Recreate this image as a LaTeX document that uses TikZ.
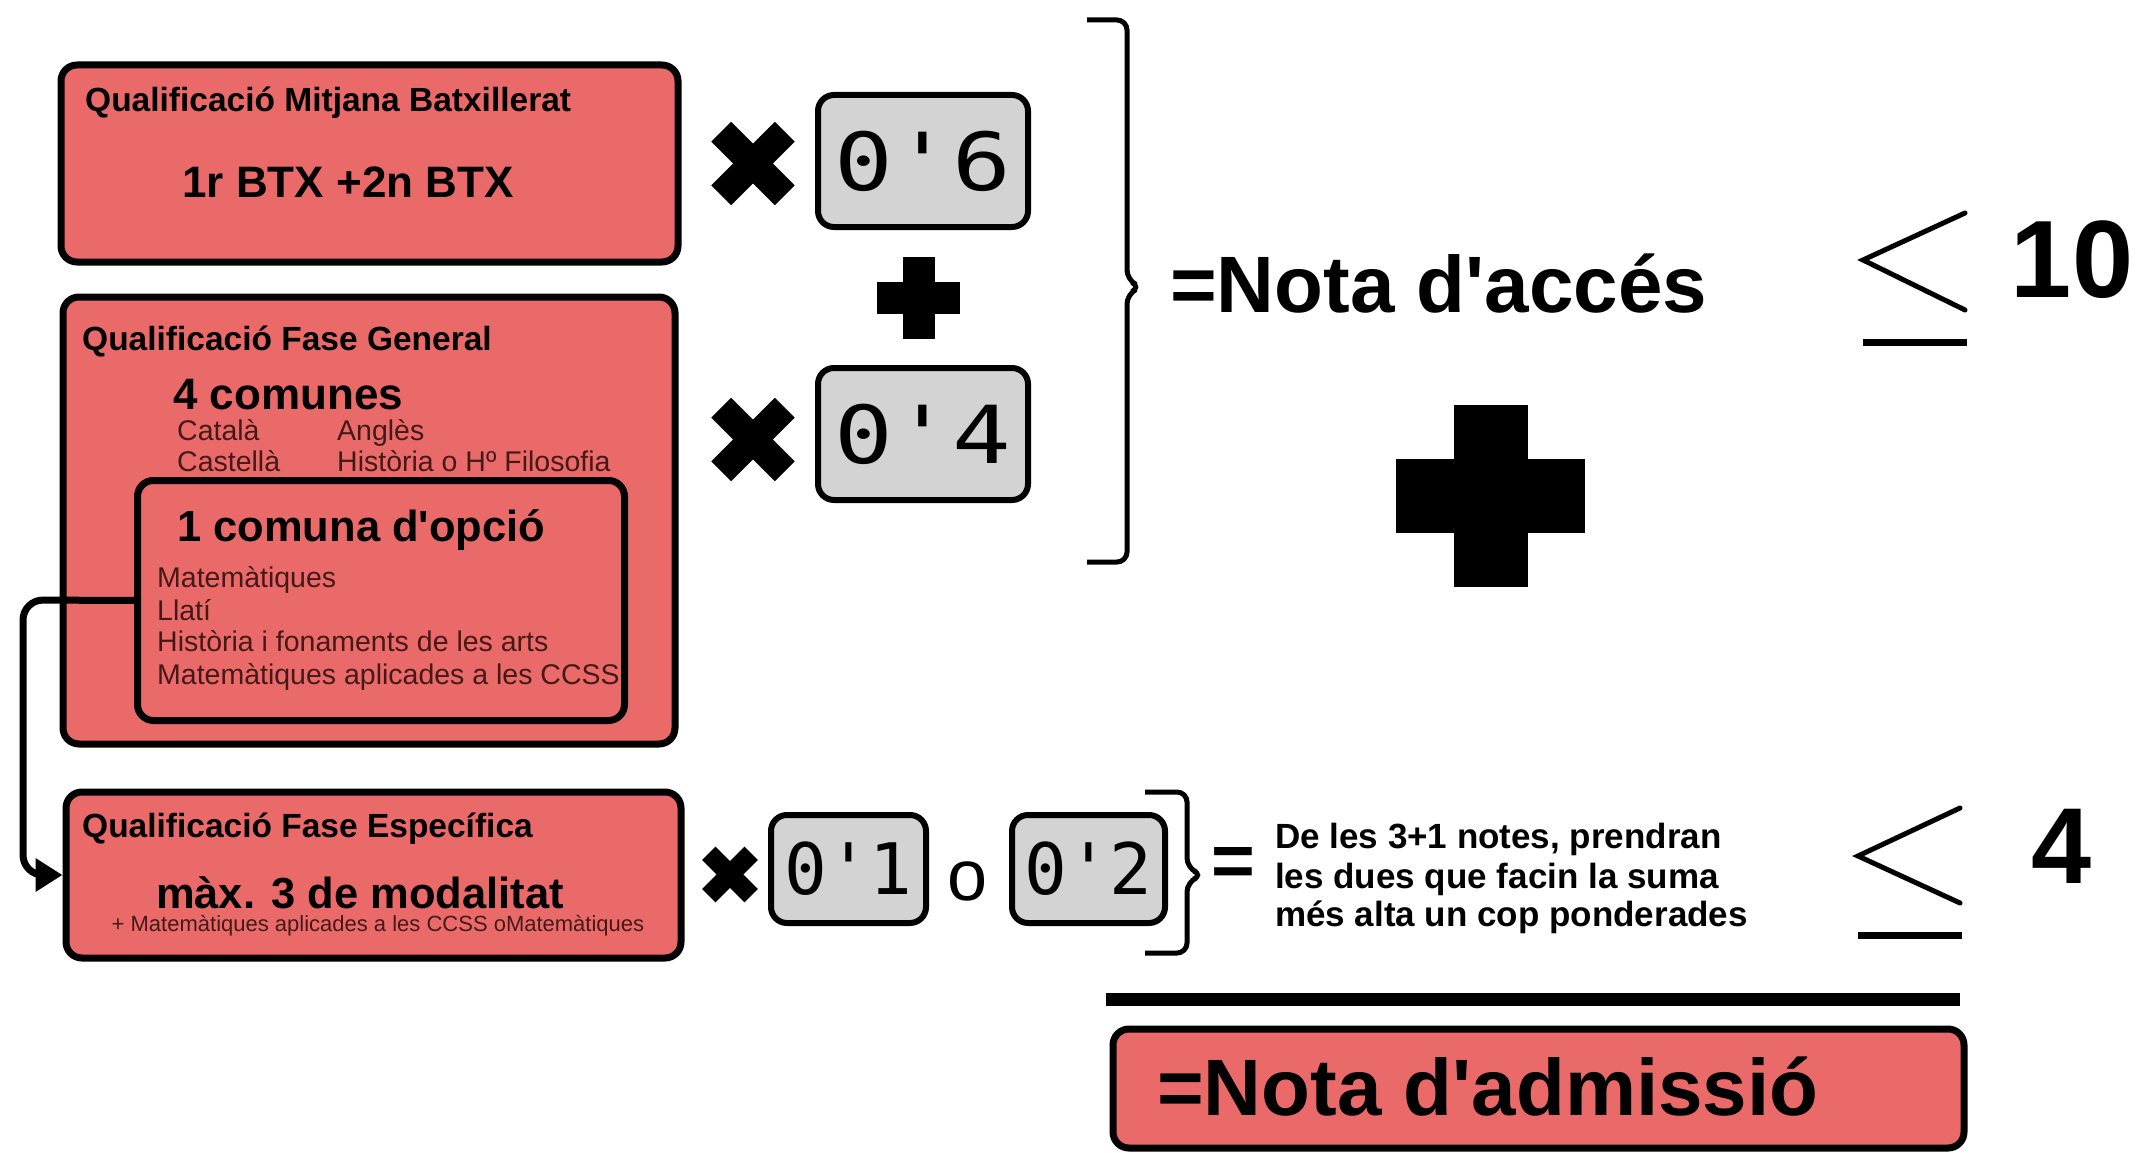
\documentclass[tikz,border=0pt]{standalone}
\usepackage{fontspec}
\setmonofont{DejaVu Sans Mono}
\newfontfamily\ar{Liberation Sans}
\usetikzlibrary{arrows.meta}
\definecolor{boxred}{RGB}{234,106,106}
\definecolor{boxgrey}{RGB}{211,211,211}
\definecolor{subtxt}{RGB}{70,25,25}
\newcommand\fsz[1]{\fontsize{#1}{#1}\selectfont}
\begin{document}
\begin{tikzpicture}[x=1pt,y=-1pt,
  redbox/.style={draw=black, fill=boxred, line width=7pt, rounded corners=16pt, inner sep=0pt},
  greybox/.style={draw=black, fill=boxgrey, line width=6pt, rounded corners=16pt, inner sep=0pt},
  ttl/.style={anchor=base west, inner sep=0pt, font=\ar\bfseries\fsz{33.5}},
  bigb/.style={inner sep=0pt, font=\ar\bfseries\fsz{44}},
  subj/.style={anchor=base west, inner sep=0pt, font=\ar\fsz{28.5}, text=subtxt},
  huge/.style={anchor=base west, inner sep=0pt, font=\ar\bfseries\fsz{80}},
  note/.style={anchor=base west, inner sep=0pt, font=\ar\bfseries\fsz{35}},
  brace/.style={draw=black, line width=5pt, rounded corners=10pt},
  conn/.style={draw=black, line width=7pt, rounded corners=20pt, -{Triangle[length=27pt,width=32pt]}},
  leq/.style={draw=black, line width=5pt, line cap=round}
]
\fill[white] (0,0) rectangle (2139,1153);
\useasboundingbox (0,0) rectangle (2139,1153);

% --- left boxes
\node[redbox, minimum width=617pt, minimum height=197pt] (mitjana) at (369.5,163.5) {};
\node[ttl] (t1) at (85,112) {Qualificació Mitjana Batxillerat};
\node[bigb, anchor=base] (btx) at (348,197) {1r BTX +2n BTX};

\node[redbox, minimum width=612pt, minimum height=447pt] (general) at (369,520.5) {};
\node[ttl] (t2) at (82,350) {Qualificació Fase General};
\node[bigb, anchor=base west] (comunes) at (173,409) {4 comunes};
\node[subj] (cat) at (177,440) {Català};
\node[subj] (ang) at (337,440) {Anglès};
\node[subj] (cas) at (177,471) {Castellà};
\node[subj] (his) at (337,471) {Història o Hº Filosofia};

\node[redbox, draw=none, minimum width=480pt, minimum height=233pt] (inner) at (381,600.5) {};
\node[bigb, anchor=base west, font=\ar\bfseries\fsz{43.5}] (opcio) at (177,541) {1 comuna d'opció};
\node[subj] (m1) at (157,587) {Matemàtiques};
\node[subj] (m2) at (157,620) {Llatí};
\node[subj] (m3) at (157,651) {Història i fonaments de les arts};
\node[subj] (m4) at (157,684) {Matemàtiques aplicades a les CCSS};
\draw[black, line width=7pt, rounded corners=16pt] (inner.south west) rectangle (inner.north east);

\node[redbox, minimum width=615pt, minimum height=166pt] (espec) at (373.5,875) {};
\node[ttl] (t3) at (82,837) {Qualificació Fase Específica};
\node[bigb, anchor=base, font=\ar\bfseries\fsz{43.5}] (max) at (360,908) {màx. 3 de modalitat};
\node[anchor=base, inner sep=0pt, font=\ar\fsz{22}, text=subtxt] (plus3) at (378,931) {+ Matemàtiques aplicades a les CCSS oMatemàtiques};

\coordinate (bend) at (23,600);
\draw[conn] (inner.west) -- (bend) |- (espec.west);

% --- multiplication marks
\begin{scope}[shift={(753,163.5)}]
  \fill[rotate=45] (-45,-14) rectangle (45,14);
  \fill[rotate=-45] (-45,-14) rectangle (45,14);
\end{scope}
\begin{scope}[shift={(753,439.5)}]
  \fill[rotate=45] (-45,-14) rectangle (45,14);
  \fill[rotate=-45] (-45,-14) rectangle (45,14);
\end{scope}
\begin{scope}[shift={(730,874.5)}]
  \fill[rotate=45] (-30,-9.5) rectangle (30,9.5);
  \fill[rotate=-45] (-30,-9.5) rectangle (30,9.5);
\end{scope}

% --- factors
\node[greybox, minimum width=210pt, minimum height=132pt, font=\ttfamily\fsz{80}] (f6) at (923,161) {\scalebox{1.22}[1]{0'6}};
\node[greybox, minimum width=210pt, minimum height=132pt, font=\ttfamily\fsz{80}] (f4) at (923,434) {\scalebox{1.22}[1]{0'4}};
\node[greybox, minimum width=155pt, minimum height=108pt, font=\ttfamily\fsz{71}] (f1) at (848.5,869) {0'1};
\node[greybox, minimum width=153pt, minimum height=108pt, font=\ttfamily\fsz{71}] (f2) at (1088.5,869) {0'2};
\node[anchor=base, inner sep=0pt, font=\ar\fsz{72}] (o) at (968,900) {o};

% plus signs
\fill (902.5,256.5) rectangle (934.5,338.5);
\fill (877,281.5) rectangle (960,313.5);
\fill (1453.5,405) rectangle (1527.5,587);
\fill (1396,459) rectangle (1585,533);

% --- braces
\draw[brace] (1087,20) -- (1127,20) -- (1127,280) -- (1141,287) -- (1127,294) -- (1127,562) -- (1087,562);
\draw[brace] (1145,792) -- (1187,792) -- (1187,868) -- (1203,875) -- (1187,882) -- (1187,953) -- (1145,953);

% --- right texts
\node[huge] (acces) at (1170,312) {=Nota d'accés};
\node[anchor=base west, inner sep=0pt, font=\ar\bfseries\fsz{75}] (eq) at (1211,886) {=};
\node[note] (n1) at (1275,848) {De les 3+1 notes, prendran};
\node[note] (n2) at (1275,888) {les dues que facin la suma};
\node[note] (n3) at (1275,926) {més alta un cop ponderades};

% less-or-equal signs
\draw[leq] (1965,213) -- (1863,260) -- (1965,310);
\draw[black, line width=7pt] (1863,342) -- (1967,342);
\node[anchor=base, inner sep=0pt, font=\ar\bfseries\fsz{110}] (ten) at (2072,297) {10};
\draw[leq] (1960,808) -- (1858,856) -- (1960,903);
\draw[black, line width=7pt] (1858,935) -- (1962,935);
\node[anchor=base, inner sep=0pt, font=\ar\bfseries\fsz{108}] (four) at (2062,883) {4};

% total line and result
\draw[black, line width=13pt] (1106,999) -- (1960,999);
\node[redbox, minimum width=851pt, minimum height=119pt] (admis) at (1538.5,1088.5) {};
\node[huge] (adm) at (1157,1115) {=Nota d'admissió};
\end{tikzpicture}
\end{document}
